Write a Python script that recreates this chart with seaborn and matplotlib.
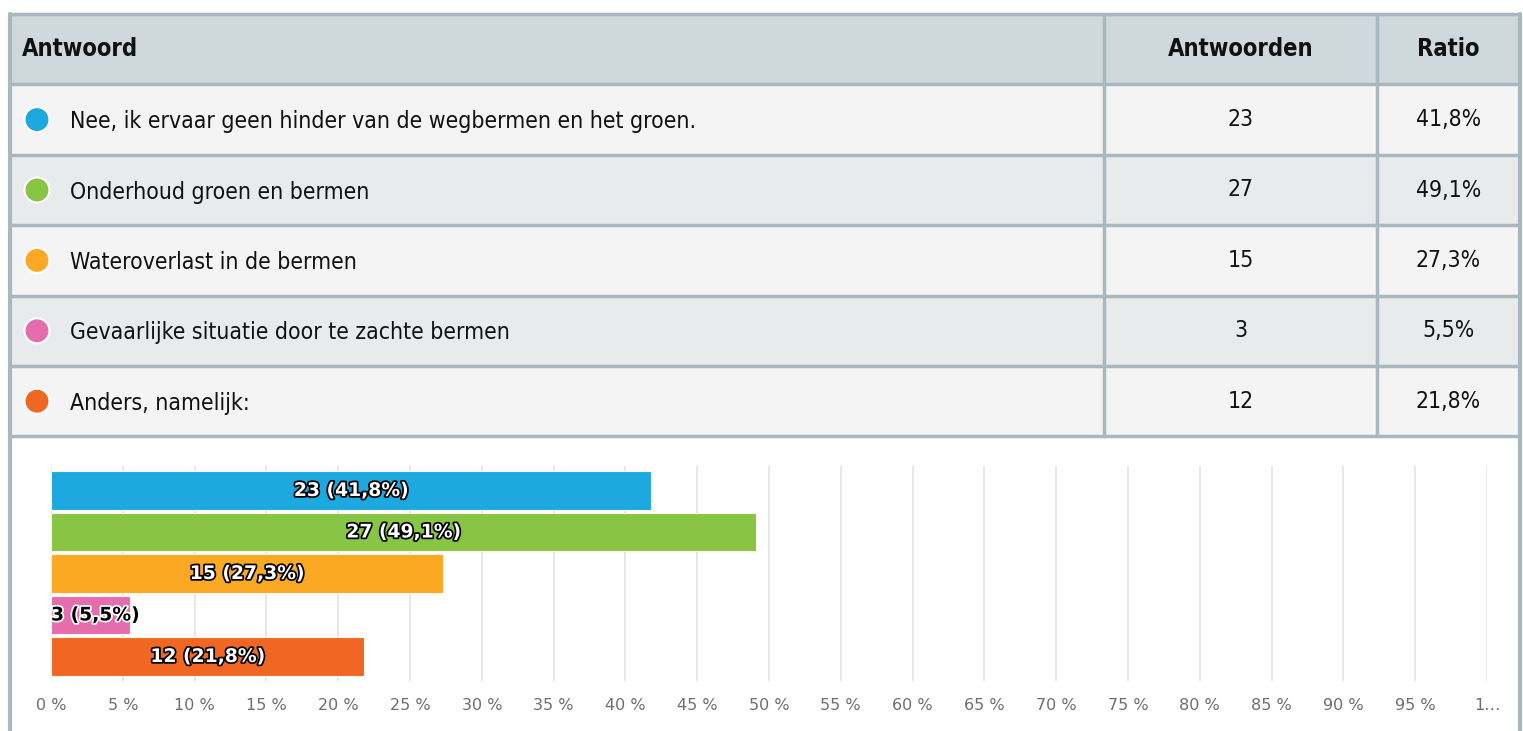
import matplotlib
matplotlib.use("Agg")
import matplotlib.pyplot as plt
import matplotlib.patheffects as pe
from matplotlib.patches import Rectangle, Circle
import pandas as pd
import seaborn as sns

# --- Data ---
answers = [
    "Nee, ik ervaar geen hinder van de wegbermen en het groen.",
    "Onderhoud groen en bermen",
    "Wateroverlast in de bermen",
    "Gevaarlijke situatie door te zachte bermen",
    "Anders, namelijk:",
]
counts = [23, 27, 15, 3, 12]
ratios = [41.8, 49.1, 27.3, 5.5, 21.8]
colors = ["#1EA8E0", "#88C544", "#FBA823", "#E56DAD", "#F06724"]
header = ["Antwoord", "Antwoorden", "Ratio"]
tick_values = list(range(0, 101, 5))

BORDER = "#A9B8BE"
HEADER_BG = "#CFD8DC"
ROW_BG = ["#F4F4F4", "#E8EBEC"]
TXT = dict(family=["DejaVu Sans"], stretch="condensed", color="#111111")

sns.set_theme(style="white")
plt.rcParams["font.family"] = ["DejaVu Sans"]

W, H = 1523, 731
fig = plt.figure(figsize=(W / 100, H / 100), dpi=100)

# --- Table drawn in pixel coordinates ---
bg = fig.add_axes([0, 0, 1, 1])
bg.set_xlim(0, W)
bg.set_ylim(H, 0)
bg.axis("off")

left, right = 10, 1520
col1, col2 = 1104, 1377
top, row_h = 14, 70.4

bg.add_patch(Rectangle((left, top), right - left, row_h, color=HEADER_BG, zorder=0))
for i in range(len(answers)):
    y0 = top + row_h * (i + 1)
    bg.add_patch(Rectangle((left, y0), right - left, row_h, color=ROW_BG[i % 2], zorder=0))

table_bottom = top + row_h * (len(answers) + 1)
for i in range(len(answers) + 2):
    y = top + row_h * i
    bg.plot([left, right], [y, y], color=BORDER, lw=2.5, zorder=1, solid_capstyle="butt")
for x in (col1, col2):
    bg.plot([x, x], [top, table_bottom], color=BORDER, lw=2.5, zorder=1)
for x in (left, right):
    bg.plot([x, x], [top, H], color=BORDER, lw=3, zorder=1)

hy = top + row_h / 2
bg.text(22, hy, header[0], fontsize=17, fontweight="bold", va="center", ha="left", **TXT)
bg.text((col1 + col2) / 2, hy, header[1], fontsize=17, fontweight="bold", va="center",
        ha="center", **TXT)
bg.text((col2 + right) / 2, hy, header[2], fontsize=17, fontweight="bold", va="center",
        ha="center", **TXT)

for i, (ans, n, r, c) in enumerate(zip(answers, counts, ratios, colors)):
    yc = top + row_h * (i + 1.5)
    bg.add_patch(Circle((37, yc), 12.5, facecolor=c, edgecolor="white", lw=1.5, zorder=2))
    bg.text(70, yc + 2, ans, fontsize=16.5, va="center", ha="left", **TXT)
    bg.text((col1 + col2) / 2, yc, str(n), fontsize=16.5, va="center", ha="center", **TXT)
    bg.text((col2 + right) / 2, yc, f"{r:.1f}%".replace(".", ","), fontsize=16.5,
            va="center", ha="center", **TXT)

# --- Bar chart ---
ax_l, ax_r = 51, 1487
ax_t, ax_b = 466, 681
ax = fig.add_axes([ax_l / W, (H - ax_b) / H, (ax_r - ax_l) / W, (ax_b - ax_t) / H])
ax.set_facecolor("none")

df = pd.DataFrame({"answer": answers, "ratio": ratios})
sns.barplot(data=df, y="answer", x="ratio", hue="answer", palette=colors, legend=False,
            orient="h", width=0.92, saturation=1, edgecolor="#FFF3EA", linewidth=0.8,
            ax=ax, zorder=3)

ax.set_xlim(0, 100)
ax.set_ylim(len(answers) - 0.41, -0.59)
ax.set_xticks(tick_values)
ax.set_xticklabels([f"{v} %" if v < 100 else "1…" for v in tick_values])
ax.tick_params(axis="x", length=0, pad=12, labelsize=11.5, labelcolor="#6E6E6E")
ax.set_yticks([0, 2.5])
ax.set_yticklabels([])
ax.tick_params(axis="y", length=14, width=1.5, color="#D6E2F0", pad=0)
ax.xaxis.grid(True, color="#E4E4E4", lw=1.2)
ax.set_axisbelow(True)
ax.set_xlabel("")
ax.set_ylabel("")
for s in ax.spines.values():
    s.set_visible(False)

fig.canvas.draw()
renderer = fig.canvas.get_renderer()
for i, (n, r) in enumerate(zip(counts, ratios)):
    label = f"{n} ({r:.1f}%)".replace(".", ",")
    t = ax.text(r / 2, i, label, ha="center", va="center", fontsize=13.5,
                fontweight="bold", color="white", zorder=5,
                path_effects=[pe.withStroke(linewidth=2.5, foreground="black")])
    bb = t.get_window_extent(renderer)
    bar_px = ax.transData.transform((r, 0))[0] - ax.transData.transform((0, 0))[0]
    if bb.width > bar_px:
        t.set_x(0)
        t.set_ha("left")
        t.set_color("black")
        t.set_path_effects([pe.withStroke(linewidth=2.5, foreground="white")])

fig.savefig("out.png", dpi=100)
